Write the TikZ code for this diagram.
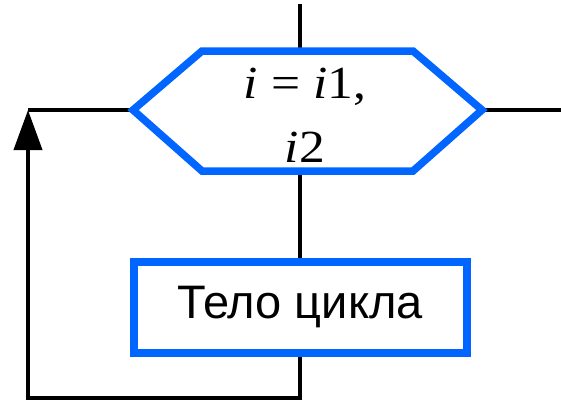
\documentclass[tikz,border=0pt]{standalone}
\usepackage{fontspec}
\setmainfont{Liberation Serif}
\newfontfamily\arialfont{Liberation Sans}
\newfontfamily\widefont[FakeStretch=1.12]{Liberation Serif}
\usetikzlibrary{arrows.meta,positioning}
\definecolor{flowblue}{RGB}{0,102,255}

\begin{document}
\begin{tikzpicture}[
  x=1pt, y=-1pt,
  flow/.style={line width=4pt, black, line join=miter},
  hexline/.style={line width=7.5pt, flowblue, line join=miter},
  bodybox/.style={rectangle, draw=flowblue, line width=8pt, fill=white,
                  minimum width=333pt, minimum height=91pt, inner sep=0pt,
                  font=\arialfont\fontsize{47}{56}\selectfont},
  condtext/.style={align=center, inner sep=0pt,
                   font=\widefont\fontsize{46}{64}\selectfont},
  uptip/.style={-{Triangle[length=40pt, width=28pt]}}
]
\useasboundingbox (0,0) rectangle (561,402);

% hexagon of the loop header
\coordinate (hl) at (133,110);
\coordinate (hr) at (482,110);
\coordinate (htop) at (300,51);
\coordinate (hbot) at (300,171);
\node[condtext] (cond) at (305,115.5) {\textit{i} = \textit{i}1,\\\textit{i}2};

% loop body
\node[bodybox] (body) at (300,307.5) {Тело цикла};

% free ends of the connectors
\coordinate (entry) at (300,4);
\coordinate (exit) at (561,110);
\coordinate (loopbot) at (28,398);
\coordinate (looptop) at (28,110);

\draw[flow] (entry) -- (htop);
\draw[flow] (hbot) -- (body.north);
\draw[flow] (hr) -- (exit);
\draw[flow, uptip] (body.south) |- (loopbot) -- (looptop);
\draw[flow] (looptop) -- (hl);

\draw[hexline] (hl) -- (202,51) -- (413,51) -- (hr) -- (413,171) -- (202,171) -- cycle;
\end{tikzpicture}
\end{document}
